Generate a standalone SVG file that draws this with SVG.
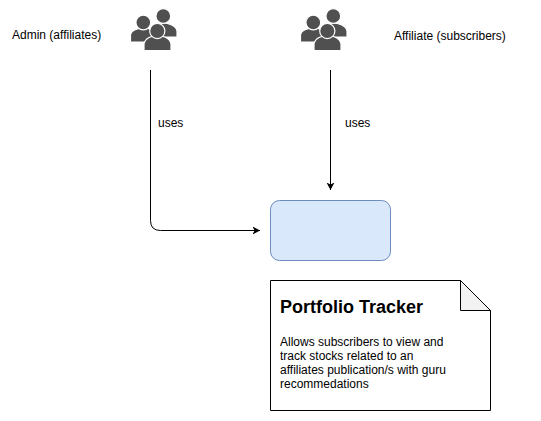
<svg xmlns="http://www.w3.org/2000/svg" xmlns:xlink="http://www.w3.org/1999/xlink" width="541" height="421" viewBox="0 0 541 421">
<style>
text{font-family:"Liberation Sans",Arial,sans-serif;font-size:12px;fill:#000}
.conn{fill:none;stroke:#000;stroke-width:1}
.p{fill:#505050;stroke:#fff;stroke-width:1.2}
</style>
<defs>
<marker id="arrow" markerUnits="userSpaceOnUse" markerWidth="8" markerHeight="9" refX="7.500" refY="4.500" orient="auto">
<path d="M0 0.500L7.500 4.500L0 8.500L2 4.500Z" fill="#000"/>
</marker>
<g id="people">
<path class="p" d="M24 37V30C24 25 30 23 33.500 23S46 25 47 31V37Z"/>
<circle class="p" cx="33.300" cy="16" r="7.400"/>
<path class="p" d="M0.500 42V35C1 30 8 28 13.500 28S26 30 27 35V42Z"/>
<circle class="p" cx="13.300" cy="22.500" r="7.400"/>
<path class="p" d="M14 50.500V44C15 38 22 35.500 27.500 35.500S40 38 41 44V50.500Z"/>
<circle class="p" cx="27.300" cy="31" r="7.600"/>
</g>
</defs>
<g id="connectors">
<path class="conn" d="M150.500 70V220.500Q150.500 230.500 160.500 230.500H260" marker-end="url(#arrow)"/>
<path class="conn" d="M330.500 70V190" marker-end="url(#arrow)"/>
<text x="158" y="127">uses</text>
<text x="345" y="127">uses</text>
</g>
<g id="admin">
<use xlink:href="#people" x="130" y="0"/>
<text x="12" y="39">Admin (affiliates)</text>
</g>
<g id="affiliate">
<use xlink:href="#people" x="300" y="0"/>
<text x="394" y="40">Affiliate (subscribers)</text>
</g>
<g id="app">
<rect x="270.500" y="200.500" width="120" height="60" rx="9" fill="#dae8fc" stroke="#6c8ebf"/>
</g>
<g id="note">
<path d="M270.500 280.500H460.500L490.500 310.500V410.500H270.500Z" fill="#fff" stroke="#000"/>
<path d="M460.500 280.500V310.500H490.500Z" fill="#f2f2f2" stroke="#000"/>
<text x="280" y="313" style="font-size:18px;font-weight:bold">Portfolio Tracker</text>
<text x="280" y="346">Allows subscribers to view and</text>
<text x="280" y="360">track stocks related to an</text>
<text x="280" y="374">affiliates publication/s with guru</text>
<text x="280" y="388">recommedations</text>
</g>
</svg>
